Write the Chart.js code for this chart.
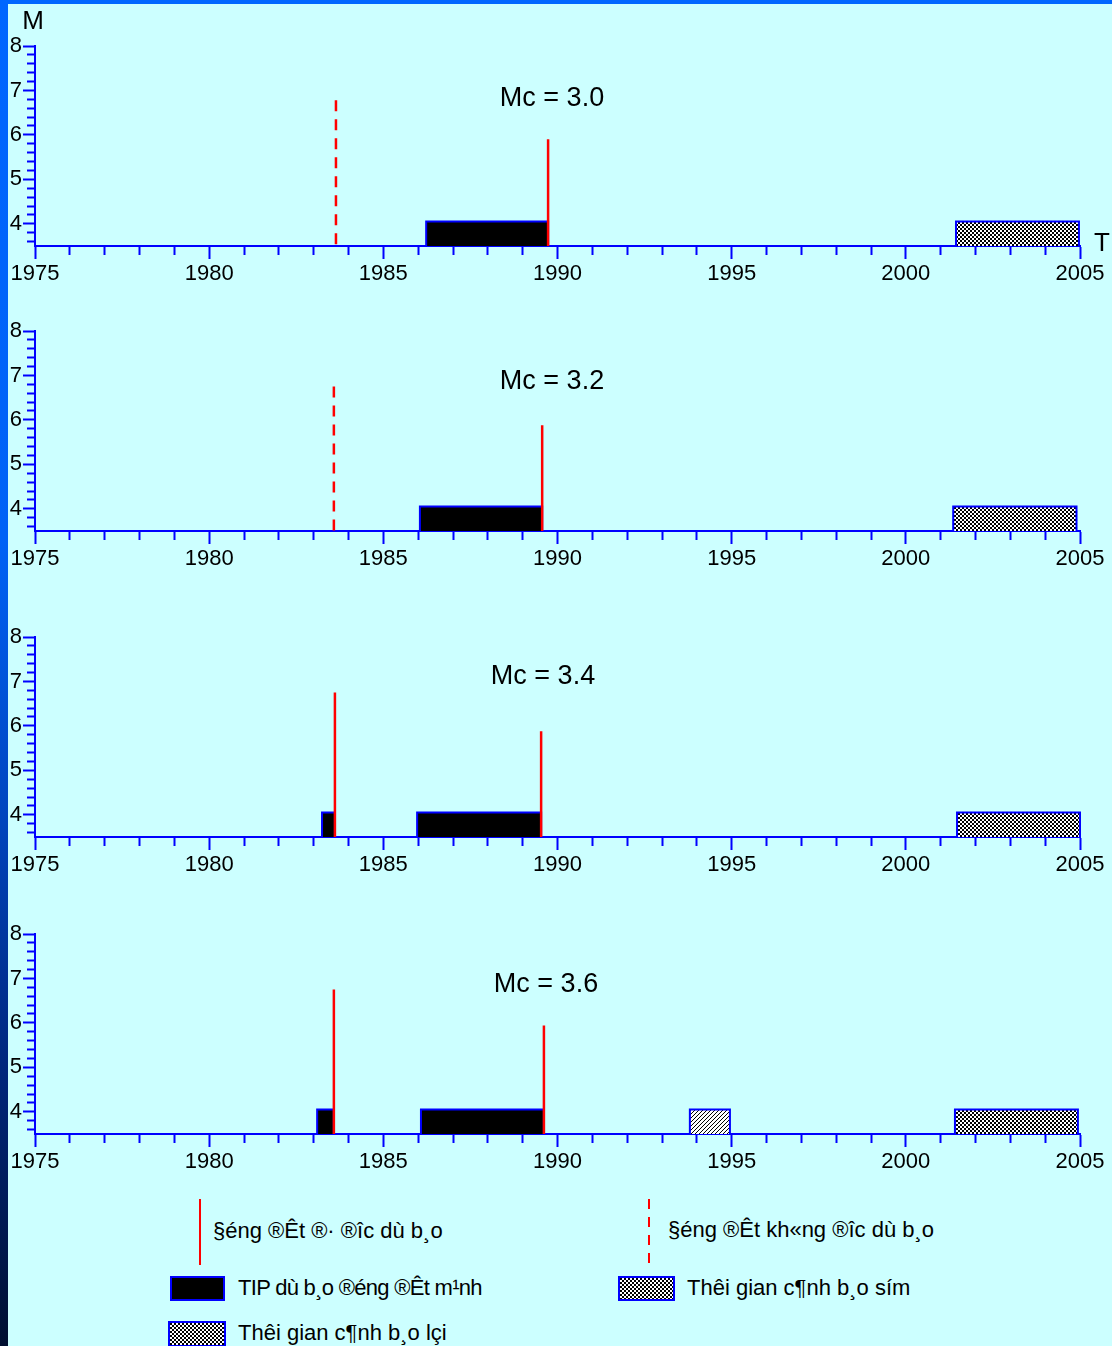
<!DOCTYPE html>
<html><head><meta charset="utf-8">
<script src="https://cdn.jsdelivr.net/npm/chart.js@4.4.1/dist/chart.umd.min.js"></script>
<style>
html,body{margin:0;padding:0;}
body{width:1112px;height:1346px;position:relative;overflow:hidden;background:#ccffff;font-family:"Liberation Sans",Arial,sans-serif;color:#000;}
#leftbar{position:absolute;left:0;top:0;width:8px;height:1346px;background:linear-gradient(to bottom,#0066ff 0%,#0062f6 40%,#0046c0 60%,#00257a 80%,#000f30 100%);}
#topbar{position:absolute;left:0;top:0;width:1112px;height:4px;background:#0066ff;}
canvas.panel{position:absolute;left:0;}
.t{position:absolute;white-space:nowrap;line-height:1;}
.c{transform:translate(-50%,-50%);}
.l{transform:translateY(-50%);}
</style></head>
<body>
<div id="leftbar"></div><div id="topbar"></div>
<script>
// ---- data ----
const yearMin = 1975, yearMax = 2005;
const magMin = 3.5, magMax = 8;
const xTickLabels = [1975, 1980, 1985, 1990, 1995, 2000, 2005];
const yTickLabels = [4, 5, 6, 7, 8];
const panelTitles = ['Mc = 3.0', 'Mc = 3.2', 'Mc = 3.4', 'Mc = 3.6'];
// predicted earthquakes [year, magnitude] per panel (solid red)
const predictedQuakes = [
  [[1989.73, 5.9]],
  [[1989.56, 5.88]],
  [[1983.61, 6.75], [1989.53, 5.88]],
  [[1983.58, 6.75], [1989.61, 5.94]]
];
// missed earthquakes per panel (dashed red)
const missedQuakes = [
  [[1983.64, 6.78]],
  [[1983.58, 6.75]],
  [],
  []
];
// TIP alarms [start, end] per panel (black)
const tipAlarms = [
  [[1986.23, 1989.73]],
  [[1986.05, 1989.56]],
  [[1983.24, 1983.61], [1985.97, 1989.53]],
  [[1983.10, 1983.58], [1986.08, 1989.61]]
];
// false alarms per panel (diagonal hatch)
const falseAlarms = [[], [], [], [[1993.80, 1994.95]]];
// early warning periods per panel (cross hatch)
const earlyWarnings = [
  [[2001.44, 2004.97]],
  [[2001.36, 2004.90]],
  [[2001.47, 2005.00]],
  [[2001.41, 2004.94]]
];
const alarmTop = 4.05;
const legendLabels = [
  '§éng ®Êt ®· ®­îc dù b¸o',
  '§éng ®Êt kh«ng ®­îc dù b¸o',
  'TIP dù b¸o ®éng ®Êt m¹nh',
  'Thêi gian c¶nh b¸o sím',
  'Thêi gian c¶nh b¸o lçi'
];
const axisNames = ['M', 'T'];

// ---- layout / style ----
const BLUE = '#0000ff', RED = '#ff0000';
const canvasTops = [0, 285, 591, 888];
const canvasH = 290;
const titleCenters = [[552, 97], [552, 380], [543, 675], [546, 983]];

function makePattern(size, fn) {
  const c = document.createElement('canvas');
  c.width = c.height = size;
  const g = c.getContext('2d');
  g.fillStyle = '#fff'; g.fillRect(0, 0, size, size);
  g.fillStyle = '#000';
  for (let x = 0; x < size; x++) for (let y = 0; y < size; y++) if (fn(x, y)) g.fillRect(x, y, 1, 1);
  return c;
}
const crossCanvas = makePattern(4, (x, y) => (Math.floor(x / 2) + Math.floor(y / 2)) % 2 === 0);
const diagCanvas = makePattern(4, (x, y) => (x + y) % 4 === 0);
const ctx0 = document.createElement('canvas').getContext('2d');
const crossPat = ctx0.createPattern(crossCanvas, 'repeat');
const diagPat = ctx0.createPattern(diagCanvas, 'repeat');

function boxDataset(iv, fillStyle) {
  return {
    data: [{x: iv[0], y: magMin}, {x: iv[0], y: alarmTop}, {x: iv[1], y: alarmTop}, {x: iv[1], y: magMin}],
    borderColor: BLUE, borderWidth: 2, backgroundColor: fillStyle, fill: 'start',
    pointRadius: 0, tension: 0, clip: false
  };
}
function quakeDataset(q, dashed) {
  return {
    data: [{x: q[0], y: q[1]}, {x: q[0], y: magMin}],
    borderColor: RED, borderWidth: 2.5, borderDash: dashed ? [11, 8] : [],
    pointRadius: 0, fill: false, clip: false
  };
}
const isInt = v => Math.abs(v - Math.round(v)) < 1e-6;

panelTitles.forEach((title, i) => {
  const cv = document.createElement('canvas');
  cv.className = 'panel';
  cv.width = 1112; cv.height = canvasH;
  cv.style.top = canvasTops[i] + 'px';
  document.body.appendChild(cv);

  const datasets = [];
  predictedQuakes[i].forEach(q => datasets.push(quakeDataset(q, false)));
  missedQuakes[i].forEach(q => datasets.push(quakeDataset(q, true)));
  tipAlarms[i].forEach(iv => datasets.push(boxDataset(iv, '#000000')));
  falseAlarms[i].forEach(iv => datasets.push(boxDataset(iv, diagPat)));
  earlyWarnings[i].forEach(iv => datasets.push(boxDataset(iv, crossPat)));

  new Chart(cv, {
    type: 'line',
    data: {datasets},
    options: {
      responsive: false, animation: false, devicePixelRatio: 1,
      layout: {padding: {top: 46, right: 32, left: 0, bottom: 0}},
      plugins: {legend: {display: false}, tooltip: {enabled: false}},
      scales: {
        x: {
          type: 'linear', position: 'bottom', min: yearMin, max: yearMax,
          afterBuildTicks: s => { const t = []; for (let y = yearMin; y <= yearMax; y++) t.push({value: y}); s.ticks = t; },
          afterFit: s => { s.height = 44; },
          ticks: {
            autoSkip: false, maxRotation: 0, padding: 2, color: '#000',
            font: {family: '"Liberation Sans", Arial', size: 22},
            callback: v => xTickLabels.includes(v) ? String(v) : ''
          },
          grid: {
            drawOnChartArea: false, drawTicks: true, tickLength: 13, tickColor: BLUE, tickWidth: 2,
            tickBorderDash: c => (c.tick && xTickLabels.includes(c.tick.value)) ? [] : [8, 100]
          },
          border: {display: true, color: BLUE, width: 2}
        },
        y: {
          type: 'linear', min: magMin, max: magMax,
          afterBuildTicks: s => { const t = []; for (let k = 36; k <= 80; k += 2) t.push({value: k / 10}); s.ticks = t; },
          afterFit: s => { s.width = 35; },
          ticks: {
            autoSkip: false, padding: 1, color: '#000',
            font: {family: '"Liberation Sans", Arial', size: 22},
            callback: v => (isInt(v) && yTickLabels.includes(Math.round(v))) ? String(Math.round(v)) : ''
          },
          grid: {
            drawOnChartArea: false, drawTicks: true, tickLength: 12, tickColor: BLUE, tickWidth: 2,
            tickBorderDash: c => (c.tick && isInt(c.tick.value)) ? [] : [0, 4, 8, 100]
          },
          border: {display: true, color: BLUE, width: 2}
        }
      }
    }
  });

  const d = document.createElement('div');
  d.className = 't c';
  d.style.left = titleCenters[i][0] + 'px';
  d.style.top = titleCenters[i][1] + 'px';
  d.style.fontSize = '27px';
  d.textContent = title;
  document.body.appendChild(d);
});

function addText(txt, x, y, size, cls, extra) {
  const d = document.createElement('div');
  d.className = 't ' + cls;
  d.style.left = x + 'px'; d.style.top = y + 'px'; d.style.fontSize = size + 'px';
  if (extra) d.style.cssText += extra;
  d.textContent = txt;
  document.body.appendChild(d);
}
addText(axisNames[0], 33, 20, 26, 'c');
addText(axisNames[1], 1102, 242, 26, 'c');

// legend
function addDiv(css) { const d = document.createElement('div'); d.style.cssText = 'position:absolute;' + css; document.body.appendChild(d); return d; }
addDiv('left:199px;top:1199px;width:2px;height:66px;background:' + RED);
addDiv('left:648px;top:1199px;width:2px;height:66px;background:repeating-linear-gradient(to bottom,' + RED + ' 0 10px,transparent 10px 18px)');
const crossURL = 'url(' + crossCanvas.toDataURL() + ')';
addDiv('left:170px;top:1276px;width:55px;height:25px;background:#000;box-sizing:border-box;border:2px solid ' + BLUE);
addDiv('left:618px;top:1276px;width:57px;height:25px;background-image:' + crossURL + ';box-sizing:border-box;border:2px solid ' + BLUE);
addDiv('left:168px;top:1321px;width:58px;height:26px;background-image:' + crossURL + ';box-sizing:border-box;border:2px solid ' + BLUE);
addText(legendLabels[0], 213, 1231, 22, 'l');
addText(legendLabels[1], 668, 1230, 22, 'l');
addText(legendLabels[2], 238, 1288, 22, 'l', 'letter-spacing:-0.7px;');
addText(legendLabels[3], 687, 1288, 22, 'l');
addText(legendLabels[4], 238, 1333, 22, 'l');
</script>
</body></html>
